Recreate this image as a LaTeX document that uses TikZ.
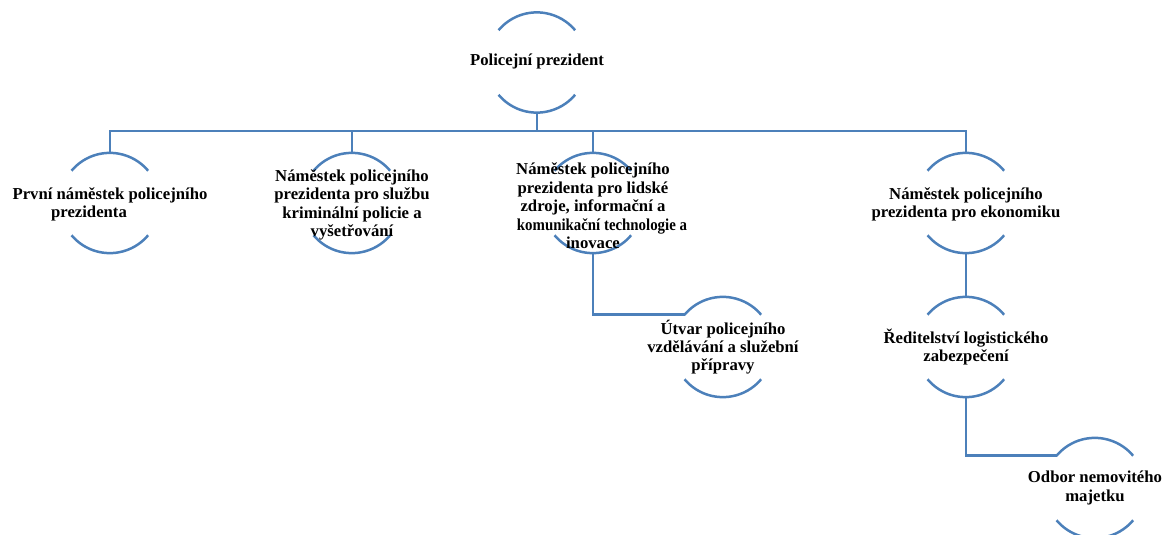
\documentclass[tikz,border=0pt]{standalone}
\usepackage{fontspec}
\usepackage{graphicx}
\setmainfont{Liberation Serif}
\definecolor{orgblue}{RGB}{76,128,186}
\begin{document}
\begin{tikzpicture}[x=1pt,y=1pt,
  circ/.style={circle,minimum size=100pt,inner sep=0pt,draw=none},
  arcsty/.style={draw=orgblue,line width=2.5pt},
  conn/.style={draw=orgblue,line width=2.5pt},
  txt/.style={align=center,inner sep=0pt,font=\bfseries\fontsize{16.7}{18.2}\selectfont},
  txts/.style={align=center,inner sep=0pt,font=\bfseries\fontsize{16.7}{18.5}\selectfont}]
\useasboundingbox (0,0) rectangle (1163,-535);
\clip (0,0) rectangle (1163,-535);
% circles (invisible) giving the anchors
\node[circ] (top) at (537,-62.5) {};
\node[circ] (a) at (110,-203) {};
\node[circ] (b) at (352,-203) {};
\node[circ] (c) at (593,-203) {};
\node[circ] (d) at (966,-203) {};
\node[circ] (u) at (723,-347) {};
\node[circ] (e) at (966,-347) {};
\node[circ] (f) at (1095,-488) {};
% arcs
\foreach \n in {top,a,b,c,d,u,e,f}{
  \draw[arcsty] (\n.140) arc[start angle=140,end angle=40,radius=50];
  \draw[arcsty] (\n.220) arc[start angle=220,end angle=320,radius=50];
}
% connectors
\coordinate (busy) at (0,-131);
\draw[conn] (top.south) -- (top.south |- busy);
\draw[conn] (a.north) |- (d.north |- busy) -- (d.north);
\draw[conn] (b.north) -- (b.north |- busy);
\draw[conn] (c.north) -- (c.north |- busy);
\draw[conn] (c.south) |- (u.140);
\draw[conn] (d.south) -- (e.north);
\draw[conn] (e.south) |- (f.140);
% texts
\node[txt] (ttop) at ([yshift=1pt]top.center) {Policejní prezident};
\node[txt] (ta) at ([yshift=-1.5pt]a.center) {První náměstek policejního\\prezidenta\hspace*{42pt}};
\node[txt] (tb) at ([yshift=-2pt]b.center) {Náměstek policejního\\prezidenta pro službu\\kriminální policie a\\vyšetřování};
\node[txts] (tc) at ([yshift=-3pt]c.center) {Náměstek policejního\\prezidenta pro lidské\\zdroje, informační a\\\hspace*{18pt}\scalebox{0.89}[1]{komunikační technologie a}\\inovace};
\node[txt] (td) at ([yshift=-1pt]d.center) {Náměstek policejního\\prezidenta pro ekonomiku};
\node[txt] (tu) at (u) {Útvar policejního\\vzdělávání a služební\\přípravy};
\node[txt] (te) at (e) {Ředitelství logistického\\zabezpečení};
\node[txt] (tf) at (f) {Odbor nemovitého\\majetku};
\end{tikzpicture}
\end{document}
